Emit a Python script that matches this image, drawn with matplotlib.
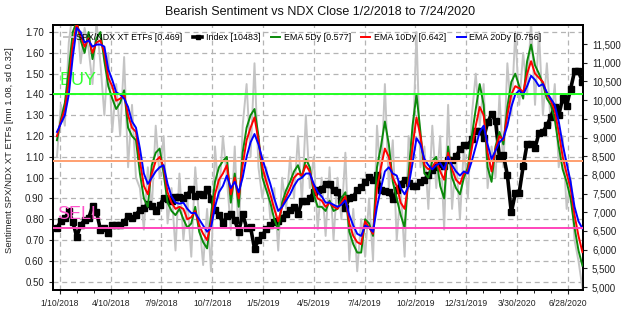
import numpy as np
import pandas as pd
import matplotlib
matplotlib.use('Agg')
import matplotlib.pyplot as plt
from datetime import datetime, timedelta

plt.rcParams['font.family'] = ['Liberation Sans', 'DejaVu Sans']

# weekly (Friday) samples
dates = pd.date_range('2018-01-05', '2020-07-24', freq='W-FRI')

raw = [1.10, 1.35, 1.25, 1.65, 1.80, 1.78, 1.55, 1.72, 1.62, 1.45,
       1.75, 1.55, 1.30, 1.60, 1.22, 1.45, 1.20, 1.58, 1.05, 1.35,
       1.00, 0.95, 0.75, 1.05, 0.85, 1.25, 1.00, 1.20, 0.78, 0.95,
       0.65, 1.02, 0.70, 0.90, 0.62, 1.05, 0.80, 0.58, 0.85, 0.55,
       1.15, 0.90, 1.20, 1.00, 0.75, 1.15, 0.70, 1.25, 1.45, 1.10,
       1.55, 1.05, 0.90, 1.05, 0.80, 0.95, 0.65, 1.00, 0.85, 1.10,
       0.90, 1.20, 0.88, 1.30, 0.95, 1.10, 0.75, 1.00, 0.72, 1.05,
       0.70, 1.00, 0.80, 1.12, 0.60, 0.85, 0.55, 0.80, 0.62, 0.90,
       0.60, 1.25, 0.98, 1.45, 0.95, 1.18, 0.70, 0.95, 0.62, 1.20,
       1.10, 1.70, 1.05, 1.15, 0.85, 1.25, 0.95, 1.20, 0.75, 1.35,
       0.85, 1.10, 0.80, 1.15, 0.90, 1.30, 1.50, 1.25, 1.45, 0.95,
       1.15, 1.00, 1.40, 1.05, 1.55, 1.30, 1.70, 1.35, 1.60, 1.40,
       1.75, 1.35, 1.70, 1.30, 1.55, 1.25, 1.45, 1.05, 1.20, 0.85,
       1.00, 0.70, 0.60, 0.469]

ema5 = [1.18, 1.28, 1.36, 1.52, 1.70, 1.75, 1.66, 1.60, 1.70, 1.57,
        1.67, 1.70, 1.56, 1.44, 1.38, 1.33, 1.36, 1.42, 1.24, 1.20,
        1.18, 1.02, 0.90, 0.86, 1.06, 1.12, 1.14, 1.02, 0.88, 0.84,
        0.82, 0.85, 0.80, 0.76, 0.78, 0.86, 0.74, 0.69, 0.66, 0.82,
        0.98, 1.05, 1.08, 1.10, 0.88, 1.02, 0.86, 1.12, 1.24, 1.30,
        1.33, 1.20, 1.00, 0.94, 0.88, 0.80, 0.75, 0.88, 0.94, 0.98,
        1.03, 1.06, 1.00, 1.09, 1.05, 0.92, 0.86, 0.86, 0.84, 0.89,
        0.84, 0.85, 0.90, 0.93, 0.74, 0.68, 0.64, 0.64, 0.80, 0.78,
        0.72, 1.05, 1.15, 1.27, 1.16, 0.98, 0.90, 0.82, 0.76, 1.02,
        1.25, 1.40, 1.22, 1.02, 1.00, 1.08, 1.10, 0.96, 0.90, 1.15,
        1.00, 0.95, 0.92, 1.00, 1.05, 1.20, 1.33, 1.45, 1.35, 1.05,
        0.98, 1.15, 1.22, 1.16, 1.34, 1.46, 1.50, 1.44, 1.38, 1.56,
        1.64, 1.54, 1.50, 1.45, 1.38, 1.35, 1.28, 1.15, 1.04, 0.98,
        0.90, 0.76, 0.65, 0.577]

ema10 = [1.20, 1.27, 1.33, 1.46, 1.64, 1.74, 1.68, 1.63, 1.67, 1.60,
         1.65, 1.66, 1.60, 1.48, 1.44, 1.37, 1.38, 1.40, 1.30, 1.24,
         1.22, 1.08, 0.96, 0.92, 1.02, 1.08, 1.10, 1.05, 0.93, 0.88,
         0.85, 0.86, 0.85, 0.80, 0.81, 0.84, 0.77, 0.73, 0.70, 0.78,
         0.92, 0.99, 1.02, 1.06, 0.92, 1.00, 0.90, 1.06, 1.18, 1.24,
         1.29, 1.18, 1.05, 0.98, 0.92, 0.85, 0.79, 0.86, 0.91, 0.95,
         1.00, 1.02, 1.01, 1.06, 1.03, 0.95, 0.90, 0.89, 0.86, 0.88,
         0.86, 0.85, 0.88, 0.91, 0.78, 0.72, 0.69, 0.68, 0.79, 0.76,
         0.73, 0.95, 1.05, 1.14, 1.10, 1.00, 0.96, 0.88, 0.85, 0.98,
         1.15, 1.29, 1.20, 1.06, 1.04, 1.05, 1.08, 1.03, 0.99, 1.12,
         1.04, 0.99, 0.97, 1.02, 1.03, 1.14, 1.25, 1.34, 1.30, 1.12,
         1.03, 1.14, 1.20, 1.18, 1.30, 1.40, 1.44, 1.43, 1.41, 1.50,
         1.56, 1.50, 1.48, 1.46, 1.40, 1.37, 1.32, 1.22, 1.10, 1.02,
         0.95, 0.82, 0.72, 0.642]

ema20 = [1.22, 1.26, 1.30, 1.40, 1.58, 1.72, 1.70, 1.65, 1.66, 1.63,
         1.64, 1.64, 1.63, 1.52, 1.47, 1.41, 1.40, 1.38, 1.34, 1.27,
         1.24, 1.14, 1.02, 0.97, 1.00, 1.03, 1.05, 1.06, 0.97, 0.91,
         0.88, 0.875, 0.88, 0.85, 0.83, 0.83, 0.80, 0.77, 0.74, 0.76,
         0.86, 0.93, 0.96, 1.01, 0.95, 0.98, 0.93, 1.00, 1.10, 1.17,
         1.21, 1.16, 1.09, 1.03, 0.97, 0.90, 0.84, 0.86, 0.89, 0.92,
         0.96, 0.99, 1.00, 1.02, 1.02, 0.97, 0.93, 0.91, 0.88, 0.88,
         0.87, 0.86, 0.87, 0.89, 0.82, 0.77, 0.73, 0.72, 0.77, 0.76,
         0.74, 0.86, 0.95, 1.03, 1.05, 1.02, 1.01, 0.95, 0.92, 0.96,
         1.07, 1.19, 1.16, 1.09, 1.06, 1.04, 1.06, 1.07, 1.04, 1.10,
         1.06, 1.03, 1.01, 1.03, 1.02, 1.08, 1.15, 1.22, 1.25, 1.16,
         1.09, 1.13, 1.17, 1.19, 1.25, 1.34, 1.40, 1.42, 1.40, 1.44,
         1.49, 1.47, 1.44, 1.45, 1.41, 1.38, 1.35, 1.27, 1.16, 1.07,
         0.98, 0.86, 0.79, 0.756]

ndx = [6578, 6761, 6834, 7022, 6748, 6344, 6649, 6801, 6836, 7161,
       7014, 6536, 6581, 6457, 6653, 6667, 6657, 6733, 6900, 6850,
       6930, 7071, 7102, 7231, 7166, 7040, 7189, 7380, 7350, 7312,
       7408, 7400, 7381, 7463, 7620, 7424, 7496, 7469, 7627, 7357,
       7063, 6931, 6716, 6894, 6953, 6780, 6475, 6949, 6591, 6600,
       6030, 6256, 6384, 6550, 6668, 6733, 6765, 6858, 6966, 7058,
       7137, 6952, 7288, 7305, 7378, 7530, 7608, 7611, 7760, 7745,
       7594, 7536, 7330, 7127, 7378, 7401, 7600, 7671, 7800, 7940,
       7858, 7992, 7587, 7566, 7532, 7350, 7600, 7762, 7864, 7780,
       7700, 7700, 7818, 7859, 8007, 8120, 8220, 8300, 8238, 8403,
       8385, 8496, 8680, 8787, 8793, 8954, 9173, 9187, 8992, 9402,
       9623, 9446, 8461, 8530, 7995, 6994, 7505, 7528, 8230, 8833,
       8834, 8719, 9121, 9152, 9325, 9555, 9824, 9589, 10056, 9850,
       10300, 10767, 10771, 10483]

buy_level, mean_level, sell_level = 1.40, 1.08, 0.76

tick_start = datetime(2018, 1, 10)
tick_dates = [tick_start + timedelta(days=90 * k) for k in range(11)]
tick_labels = ['1/10/2018', '4/10/2018', '7/9/2018', '10/7/2018', '1/5/2019',
               '4/5/2019', '7/4/2019', '10/2/2019', '12/31/2019', '3/30/2020',
               '6/28/2020']

fig = plt.figure(figsize=(6.4, 3.09), dpi=100)
ax = fig.add_axes([53 / 640, 19 / 309, 530 / 640, 265 / 309])
ax2 = ax.twinx()

ax.set_xlim(datetime(2017, 12, 29), datetime(2020, 7, 25))
ax.set_ylim(0.46, 1.734)
ax2.set_ylim(4920, 12010)

ax.set_xticks(tick_dates)
ax.set_xticklabels(tick_labels)
ax.set_xticks([tick_start + timedelta(days=30 * k) for k in range(31)], minor=True)
ax.set_yticks(np.arange(0.5, 1.71, 0.1))
ax.set_yticklabels(['%.2f' % v for v in np.arange(0.5, 1.71, 0.1)])
ax2.set_yticks(range(5000, 11501, 500))
ax2.set_yticklabels(['{:,}'.format(v) for v in range(5000, 11501, 500)])

ax.grid(True, color='#b4b4b4', linestyle=(0, (4, 3)), linewidth=0.9)
ax.tick_params(axis='y', labelsize=7, colors='#222222', length=3)
ax.tick_params(axis='x', labelsize=6.2, colors='#222222', length=3)
ax.tick_params(axis='x', which='minor', length=2)
ax2.tick_params(axis='y', labelsize=7, colors='#222222', length=3)
for a in (ax, ax2):
    for s in a.spines.values():
        s.set_color('black')
        s.set_linewidth(1.3)

tr = ax.transData
l_raw, = ax2.plot(dates, raw, color='#c4c4c4', lw=1.4, transform=tr, zorder=1)
l_ndx, = ax2.plot(dates, ndx, color='black', lw=2.6, marker='s', markersize=4.4,
                  zorder=2)

ax2.text(datetime(2018, 1, 10), 1.467, 'BUY', color='#33ff33', fontsize=13,
         va='center', ha='left', transform=tr, zorder=2.5)
ax2.text(datetime(2018, 1, 6), 0.823, 'SELL', color='#ff55cc', fontsize=13,
         va='center', ha='left', transform=tr, zorder=2.5)

l5, = ax2.plot(dates, ema5, color='#0a8a0a', lw=1.4, transform=tr, zorder=3)
l10, = ax2.plot(dates, ema10, color='#ff0000', lw=1.4, transform=tr, zorder=4)
l20, = ax2.plot(dates, ema20, color='#0000ff', lw=1.4, transform=tr, zorder=5)

ytr = ax.get_yaxis_transform()
ax2.plot([0, 1], [buy_level, buy_level], color='#22ff22', lw=1.4, transform=ytr, zorder=6)
ax2.plot([0, 1], [mean_level, mean_level], color='#ff9f70', lw=1.4, transform=ytr, zorder=6)
ax2.plot([0, 1], [sell_level, sell_level], color='#ff44bb', lw=1.4, transform=ytr, zorder=6)

ax2.legend([l_raw, l_ndx, l5, l10, l20],
           ['SPX/NDX XT ETFs [0.469]', 'Index [10483]', 'EMA 5Dy [0.577]',
            'EMA 10Dy [0.642]', 'EMA 20Dy [0.756]'],
           loc='center left', bbox_to_anchor=(11 / 530, 0.951), ncol=5,
           frameon=False, fontsize=6.4, handlelength=1.0, handletextpad=0.4,
           columnspacing=1.2, borderpad=0, borderaxespad=0, markerscale=0.6)

fig.text(0.5, 1 - 12 / 309, 'Bearish Sentiment vs NDX Close 1/2/2018 to 7/24/2020',
         ha='center', va='center', fontsize=9, color='#111111')
fig.text(10 / 640, 1 - 150 / 309, 'Sentiment SPX/NDX XT ETFs [mn 1.08, sd 0.32]',
         rotation=90, ha='center', va='center', fontsize=6.8, color='#222222')

fig.savefig('out.png', dpi=100)
